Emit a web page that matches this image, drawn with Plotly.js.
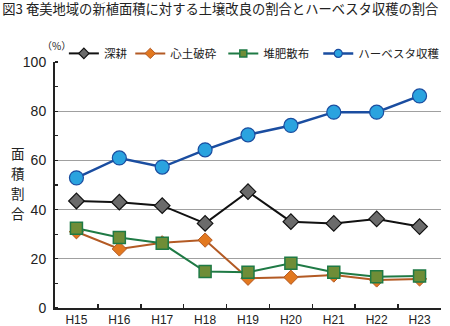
<!DOCTYPE html>
<html><head><meta charset="utf-8">
<script src="https://cdn.plot.ly/plotly-3.0.1.min.js"></script>
<style>html,body{margin:0;padding:0;background:#fff}#c{width:450px;height:326px}</style>
</head><body><div id="c"></div>
<script>
const categories = ["H15","H16","H17","H18","H19","H20","H21","H22","H23"];
const shinko = [43.5, 43.0, 41.6, 34.4, 47.3, 35.1, 34.4, 36.2, 33.1];
const shindo = [31.0, 24.0, 26.5, 27.6, 12.1, 12.5, 13.4, 11.4, 11.8];
const taihi = [32.4, 28.7, 26.3, 14.8, 14.5, 18.2, 14.5, 12.7, 13.0];
const harvester = [52.9, 61.0, 57.3, 64.3, 70.4, 74.2, 79.6, 79.6, 86.2];
const names = ["深耕","心土破砕","堆肥散布","ハーベスタ収穫"];
const yTicks = [0,20,40,60,80,100];
const yTitleChars = ["面","積","割","合"];

const jp = '"Noto Sans CJK JP", "Noto Sans", sans-serif';
const num = '"Liberation Sans Narrow", "Liberation Sans", Arial, sans-serif';

const seriesVals = [shinko, shindo, taihi, harvester];
const styles = [
  {line: {color: '#111111', width: 2}, symbol: 'diamond', size: 12, legSize: 8, fill: '#6b6b6b', edge: '#111111', ew: 1.2},
  {line: {color: '#b35a24', width: 2}, symbol: 'diamond', size: 11, legSize: 8, fill: '#e2781f', edge: '#b35a24', ew: 1},
  {line: {color: '#1f7a45', width: 2}, symbol: 'square', size: 12, legSize: 7, fill: '#6f8d37', edge: '#1f7a45', ew: 1.5},
  {line: {color: '#1a4da0', width: 2.5}, symbol: 'circle', size: 14, legSize: 8, fill: '#2aa3df', edge: '#1a4da0', ew: 1.2}
];
const legendIds = ['legend', 'legend2', 'legend3', 'legend4'];
const traces = [];
seriesVals.forEach((vals, i) => {
  const s = styles[i];
  traces.push({x: categories, y: vals, name: names[i], mode: 'lines+markers', showlegend: false,
    line: s.line, marker: {symbol: s.symbol, size: s.size, color: s.fill, line: {color: s.edge, width: s.ew}}});
});
seriesVals.forEach((vals, i) => {
  const s = styles[i];
  traces.push({x: [null], y: [null], name: names[i], mode: 'lines+markers', showlegend: true, legend: legendIds[i],
    line: s.line, marker: {symbol: s.symbol, size: s.legSize, color: s.fill, line: {color: s.edge, width: s.ew}}});
});

const legX = [0.023, 0.195, 0.436, 0.682];
const layout = {
  width: 450, height: 326,
  margin: {l: 55, r: 5, t: 62, b: 18, pad: 0},
  paper_bgcolor: '#fff', plot_bgcolor: '#fff',
  showlegend: true,
  title: {text: '図3 奄美地域の新植面積に対する土壌改良の割合とハーベスタ収穫の割合',
          x: 0.005, xanchor: 'left', y: 0.985, yanchor: 'top',
          font: {family: jp, size: 13.3, color: '#222'}},
  xaxis: {type: 'category', range: [-0.5, 8.5], showline: true, linecolor: '#222', linewidth: 2,
          ticks: 'inside', tickson: 'boundaries', ticklen: 4, tickcolor: '#222', tickwidth: 1.5,
          tickfont: {family: num, size: 12, color: '#222'}, showgrid: false, fixedrange: true},
  yaxis: {range: [0, 100], tickvals: yTicks, ticktext: yTicks.map(String), showline: true,
          linecolor: '#222', linewidth: 2, ticks: '', showgrid: true, gridcolor: '#a0a0a0', gridwidth: 1.2,
          zeroline: false, tickfont: {family: num, size: 14, color: '#222'}, ticklabelstandoff: 4,
          minor: {dtick: 10, tick0: 0, ticks: 'inside', ticklen: 3, tickcolor: '#222', tickwidth: 1.2, showgrid: false}},
  annotations: [
    {text: '（%）', xref: 'paper', yref: 'paper', x: 0.005, y: 1.069, xanchor: 'center', yanchor: 'middle',
     showarrow: false, font: {family: jp, size: 10, color: '#222'}}
  ]
};
legendIds.forEach((id, i) => {
  layout[id] = {orientation: 'h', x: legX[i], xanchor: 'left', y: 1.035, yanchor: 'middle',
    font: {family: jp, size: 11.5, color: '#222'}, itemwidth: 30, bgcolor: 'rgba(0,0,0,0)'};
});
const yTitleY = [0.630, 0.549, 0.467, 0.386];
yTitleChars.forEach((ch, i) => {
  layout.annotations.push({text: ch, xref: 'paper', yref: 'paper', x: -0.097, y: yTitleY[i],
    xanchor: 'center', yanchor: 'middle', showarrow: false, borderpad: 0,
    font: {family: jp, size: 13.5, color: '#222'}});
});
Plotly.newPlot('c', traces, layout, {staticPlot: true, displayModeBar: false});
</script></body></html>
